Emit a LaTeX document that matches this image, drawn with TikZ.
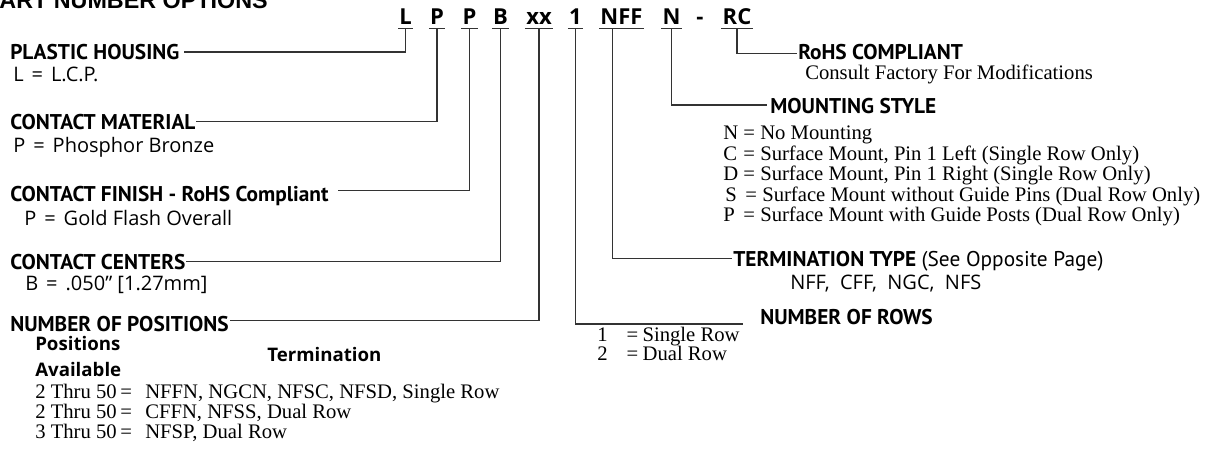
\documentclass[tikz,border=0pt]{standalone}
\usepackage{fontspec}
\setmainfont{Liberation Serif}
\setsansfont{Open Sans}
\newfontfamily\headfont{PT Sans}
\newfontfamily\titlefont{Liberation Sans}
\usetikzlibrary{positioning,calc}
\newcommand{\optrow}[2]{\makebox[15pt][l]{#1}\makebox[12.75pt][l]{=}#2}
\newcommand{\eqgap}{\hspace{0.4em}}

\begin{document}
\begin{tikzpicture}[x=0.75pt, y=-0.75pt, every node/.style={inner sep=0pt}]
  % Styles for the part number breakdown
  \tikzstyle{code} = [font=\sffamily\bfseries\fontsize{16.5}{20}\selectfont, anchor=base, inner xsep=0.8pt, inner ysep=2.2pt, text depth=0pt]
  \tikzstyle{heading} = [font=\headfont\bfseries\fontsize{16}{19}\selectfont, anchor=base west]
  \tikzstyle{subhead} = [font=\sffamily\bfseries\fontsize{14}{17}\selectfont, anchor=base west]
  \tikzstyle{value} = [font=\sffamily\fontsize{15}{18}\selectfont, anchor=base west]
  \tikzstyle{entry} = [font=\rmfamily\fontsize{15.5}{18}\selectfont, anchor=base west]
  \tikzstyle{leader} = [draw=black!80, line width=0.95pt]

  \useasboundingbox (0,0) rectangle (1220,452);
  \clip (0,0) rectangle (1220,452);

  % Title (cut at the top of the page)
  \node[anchor=base east, font=\titlefont\bfseries\fontsize{17.5}{20}\selectfont] (title) at (268,9) {PART NUMBER OPTIONS};

  % Part number code
  \node[code] (pL) at (405.7,25) {L};
  \node[code] (pP1) at (437,25) {P};
  \node[code] (pP2) at (469.5,25) {P};
  \node[code] (pB) at (500.5,25) {B};
  \node[code] (pxx) at (539,25) {xx};
  \node[code] (p1) at (575.5,25) {1};
  \node[code] (pNFF) at (621.5,25) {NFF};
  \node[code] (pN) at (671.5,25) {N};
  \node[code] (pdash) at (700,25) {-};
  \node[code] (pRC) at (737,25) {RC};
  \foreach \p in {pL,pP1,pP2,pB,pxx,p1,pNFF,pN,pRC}
    \draw[leader] (\p.south west) -- (\p.south east);

  % Left column options
  \node[heading] (hHousing) at (10,60) {PLASTIC HOUSING};
  \node[value] (vHousing) at (13,82) {L\eqgap=\eqgap L.C.P.};
  \node[heading] (hMaterial) at (10,130) {CONTACT MATERIAL};
  \node[value] (vMaterial) at (13,153) {P\eqgap=\eqgap Phosphor Bronze};
  \node[heading] (hFinish) at (10,201.7) {CONTACT FINISH - RoHS Compliant};
  \node[value] (vFinish) at (24,226) {P\eqgap=\eqgap Gold Flash Overall};
  \node[heading] (hCenters) at (10,270) {CONTACT CENTERS};
  \node[value] (vCenters) at (25,290.5) {B\eqgap=\eqgap .050” [1.27mm]};
  \node[heading] (hPositions) at (10,331) {NUMBER OF POSITIONS};
  \node[subhead] (sPositions) at (35,350) {Positions};
  \node[subhead] (sAvailable) at (35,376) {Available};
  \node[subhead] (sTermination) at (267,361) {Termination};
  \node[entry] (rPos1) at (35,398.5) {\makebox[63.75pt][l]{2 Thru 50}\makebox[18.75pt][l]{=}NFFN, NGCN, NFSC, NFSD, Single Row};
  \node[entry] (rPos2) at (35,418.5) {\makebox[63.75pt][l]{2 Thru 50}\makebox[18.75pt][l]{=}CFFN, NFSS, Dual Row};
  \node[entry] (rPos3) at (35,438.5) {\makebox[63.75pt][l]{3 Thru 50}\makebox[18.75pt][l]{=}NFSP, Dual Row};

  % Right column options
  \node[heading] (hRohs) at (798,60) {RoHS COMPLIANT};
  \node[entry] (vRohs) at (805,80) {Consult Factory For Modifications};
  \node[heading] (hMount) at (770,114) {MOUNTING STYLE};
  \node[entry] (mN) at (723,140) {\optrow{N}{No Mounting}};
  \node[entry] (mC) at (723,160.5) {\optrow{C}{Surface Mount, Pin 1 Left (Single Row Only)}};
  \node[entry] (mD) at (723,181) {\optrow{D}{Surface Mount, Pin 1 Right (Single Row Only)}};
  \node[entry] (mS) at (725,201.5) {\optrow{S}{Surface Mount without Guide Pins (Dual Row Only)}};
  \node[entry] (mP) at (723,222) {\optrow{P}{Surface Mount with Guide Posts (Dual Row Only)}};
  \node[heading] (hTerm) at (733,266.7) {TERMINATION TYPE \mdseries(See Opposite Page)};
  \node[value] (vTerm) at (790,290) {NFF,\ \ CFF,\ \ NGC,\ \ NFS};
  \node[heading] (hRows) at (760,324) {NUMBER OF ROWS};
  \node[entry] (rRow1) at (597,341.7) {\makebox[22pt][l]{1}\makebox[12pt][l]{=}Single Row};
  \node[entry] (rRow2) at (597,360) {\makebox[22pt][l]{2}\makebox[12pt][l]{=}Dual Row};

  % Leader lines
  \draw[leader] (pL.south) |- ([xshift=3pt,yshift=6pt]hHousing.base east);
  \draw[leader] (pP1.south) |- ([yshift=6.2pt]hMaterial.base east);
  \draw[leader] (pP2.south) |- ([xshift=7pt,yshift=8.2pt]hFinish.base east);
  \draw[leader] (pB.south) |- ([yshift=6.3pt]hCenters.base east);
  \draw[leader] (pxx.south) |- ([xshift=1pt,yshift=7.7pt]hPositions.base east);
  \draw[leader] (p1.south) |- ([xshift=-12.75pt]hRows.base west);
  \draw[leader] ([xshift=-7pt]pNFF.south) |- ([xshift=-1pt,yshift=6.3pt]hTerm.base west);
  \draw[leader] (pN.south) |- ([xshift=-2.5pt,yshift=6.7pt]hMount.base west);
  \draw[leader] (pRC.south) |- ([xshift=-1pt,yshift=5pt]hRohs.base west);
\end{tikzpicture}
\end{document}
